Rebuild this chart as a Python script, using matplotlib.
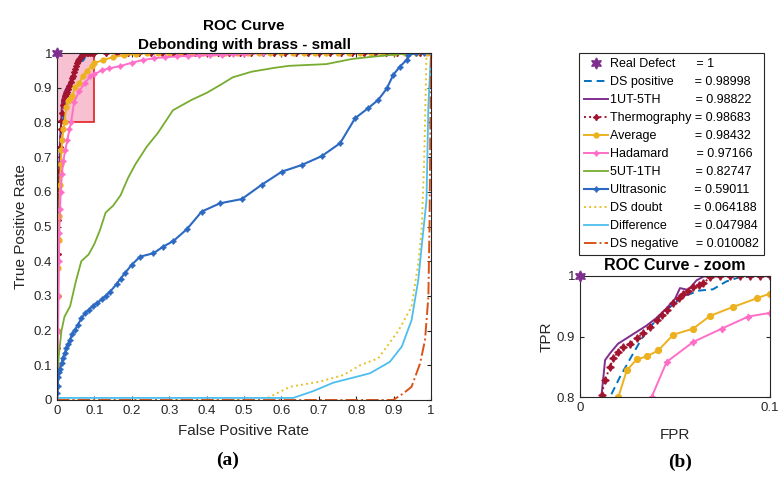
import matplotlib
matplotlib.use("Agg")
import matplotlib.pyplot as plt
from matplotlib.patches import Rectangle

plt.rcParams["font.family"] = ["Liberation Sans", "DejaVu Sans"]

# ---- data (FPR, TPR) ----
real_fpr = [0.0]
real_tpr = [1.0]

dspos_fpr = [0, 0.002, 0.005, 0.010, 0.0158, 0.021, 0.028, 0.035, 0.0456, 0.054, 0.063, 0.070,
             0.077, 0.084, 0.10, 1.0]
dspos_tpr = [0, 0.30, 0.55, 0.72, 0.80, 0.833, 0.872, 0.910, 0.944, 0.966, 0.976, 0.978,
             0.991, 0.998, 1.0, 1.0]

ut5th_fpr = [0, 0.002, 0.005, 0.008, 0.0114, 0.0132, 0.016, 0.020, 0.025, 0.030, 0.035, 0.040,
             0.045, 0.050, 0.0526, 0.057, 0.0614, 0.065, 0.070, 1.0]
ut5th_tpr = [0, 0.35, 0.62, 0.75, 0.805, 0.861, 0.873, 0.888, 0.898, 0.908, 0.918, 0.930,
             0.945, 0.962, 0.980, 0.977, 0.993, 0.999, 1.0, 1.0]

therm_fpr = [0, 0.001, 0.002, 0.003, 0.004, 0.005, 0.006, 0.008, 0.010, 0.0114, 0.0132, 0.0158,
             0.0175, 0.0202, 0.0228, 0.0263, 0.0298, 0.0333, 0.0368, 0.0404, 0.0430, 0.0456,
             0.0491, 0.0520, 0.0544, 0.0570, 0.0596, 0.0625, 0.0649, 0.0684, 0.0737, 0.079,
             0.0842, 0.0895, 0.0947, 0.10, 0.13, 0.16, 0.19, 0.22, 0.25, 0.28, 0.31, 0.34, 0.37,
             0.40, 0.43, 0.46, 0.49, 0.52, 0.55, 0.58, 0.61, 0.64, 0.67, 0.70, 0.73, 0.76, 0.79,
             0.82, 0.85, 0.88, 0.91, 0.94, 0.97, 1.0]
therm_tpr = [0, 0.15, 0.30, 0.42, 0.52, 0.60, 0.66, 0.73, 0.78, 0.804, 0.828, 0.850,
             0.864, 0.875, 0.883, 0.888, 0.897, 0.905, 0.916, 0.927, 0.935, 0.944,
             0.955, 0.963, 0.971, 0.976, 0.982, 0.985, 0.988, 0.998, 1.0, 1.0,
             1.0, 1.0, 1.0, 1.0, 1.0, 1.0, 1.0, 1.0, 1.0, 1.0, 1.0, 1.0, 1.0,
             1.0, 1.0, 1.0, 1.0, 1.0, 1.0, 1.0, 1.0, 1.0, 1.0, 1.0, 1.0, 1.0, 1.0,
             1.0, 1.0, 1.0, 1.0, 1.0, 1.0, 1.0]

avg_fpr = [0, 0.001, 0.002, 0.003, 0.004, 0.005, 0.006, 0.008, 0.010, 0.012, 0.014, 0.017,
           0.0202, 0.0246, 0.0298, 0.0351, 0.0412, 0.0491, 0.0596, 0.0684, 0.0807, 0.093, 0.10,
           0.124, 0.15, 0.18, 0.21, 0.24, 0.27, 0.30, 0.33, 0.36, 0.39, 0.42, 0.45, 0.48, 0.51,
           0.54, 0.57, 0.60, 0.63, 0.66, 0.69, 0.72, 0.75, 0.78, 0.81, 0.84, 0.87, 0.90, 0.93,
           0.96, 0.99, 1.0]
avg_tpr = [0, 0.10, 0.20, 0.30, 0.38, 0.46, 0.53, 0.62, 0.68, 0.72, 0.75, 0.78,
           0.80, 0.844, 0.862, 0.867, 0.877, 0.903, 0.913, 0.934, 0.949, 0.963, 0.971,
           0.980, 0.988, 0.994, 0.997, 1.0, 1.0, 1.0, 1.0, 1.0, 1.0, 1.0, 1.0, 1.0, 1.0,
           1.0, 1.0, 1.0, 1.0, 1.0, 1.0, 1.0, 1.0, 1.0, 1.0, 1.0, 1.0, 1.0, 1.0,
           1.0, 1.0, 1.0]

had_fpr = [0, 0.002, 0.003, 0.004, 0.005, 0.006, 0.008, 0.010, 0.013, 0.017, 0.022, 0.028,
           0.033, 0.0377, 0.0456, 0.0596, 0.0746, 0.0886, 0.10, 0.12, 0.14, 0.168, 0.20, 0.231,
           0.26, 0.29, 0.32, 0.35, 0.38, 0.41, 0.44, 0.47, 0.50, 0.55, 1.0]
had_tpr = [0, 0.10, 0.20, 0.30, 0.40, 0.48, 0.55, 0.60, 0.65, 0.69, 0.72, 0.75,
           0.78, 0.80, 0.858, 0.891, 0.913, 0.933, 0.939, 0.950, 0.956, 0.962, 0.972, 0.980,
           0.985, 0.988, 0.990, 0.992, 0.993, 0.994, 0.995, 0.996, 0.997, 1.0, 1.0]

ut1th_fpr = [0, 0.002, 0.005, 0.012, 0.020, 0.035, 0.050, 0.065, 0.085, 0.10, 0.115, 0.13,
             0.15, 0.17, 0.19, 0.21, 0.24, 0.27, 0.31, 0.36, 0.40, 0.44, 0.47, 0.52, 0.58,
             0.62, 0.72, 0.79, 0.85, 0.92, 1.0]
ut1th_tpr = [0, 0.08, 0.13, 0.20, 0.24, 0.27, 0.34, 0.40, 0.42, 0.45, 0.49, 0.54,
             0.56, 0.59, 0.64, 0.68, 0.73, 0.77, 0.835, 0.865, 0.885, 0.91, 0.93, 0.946, 0.957,
             0.963, 0.968, 0.983, 0.99, 0.997, 1.0]

ultra_fpr = [0, 0.001, 0.002, 0.0035, 0.005, 0.008, 0.0125, 0.015, 0.021, 0.025, 0.030, 0.035,
             0.040, 0.048, 0.055, 0.065, 0.075, 0.085, 0.095, 0.106, 0.12, 0.13, 0.142, 0.16,
             0.17, 0.182, 0.20, 0.222, 0.258, 0.284, 0.311, 0.347, 0.387, 0.436, 0.494, 0.547,
             0.601, 0.654, 0.708, 0.757, 0.797, 0.832, 0.859, 0.882, 0.899, 0.917, 0.935, 0.939,
             0.96, 0.98, 1.0]
ultra_tpr = [0, 0.02, 0.04, 0.067, 0.08, 0.09, 0.106, 0.12, 0.135, 0.15, 0.16, 0.173,
             0.19, 0.202, 0.215, 0.235, 0.25, 0.26, 0.27, 0.279, 0.29, 0.30, 0.312, 0.335,
             0.35, 0.366, 0.39, 0.413, 0.423, 0.442, 0.458, 0.492, 0.543, 0.567, 0.579, 0.62,
             0.658, 0.677, 0.703, 0.74, 0.812, 0.841, 0.865, 0.898, 0.937, 0.961, 0.98, 0.994,
             1.0, 1.0, 1.0]

dsdoubt_fpr = [0, 0.552, 0.623, 0.703, 0.766, 0.81, 0.859, 0.913, 0.948, 0.966, 0.975, 0.982,
               0.988, 1.0]
dsdoubt_tpr = [0, 0, 0.038, 0.053, 0.072, 0.10, 0.12, 0.20, 0.269, 0.394, 0.49, 0.70,
               1.0, 1.0]

diff_fpr = [0, 0.632, 0.686, 0.739, 0.801, 0.837, 0.89, 0.922, 0.948, 0.966, 0.975, 0.988,
            0.993, 1.0]
diff_tpr = [0.006, 0.006, 0.026, 0.05, 0.067, 0.077, 0.11, 0.154, 0.23, 0.346, 0.442, 0.576,
            0.85, 1.0]

dsneg_fpr = [0, 0.899, 0.926, 0.948, 0.971, 0.984, 0.993, 0.996, 1.0]
dsneg_tpr = [0, 0, 0.019, 0.038, 0.106, 0.173, 0.298, 0.50, 1.0]

labels = ["Real Defect      = 1",
          "DS positive      = 0.98998",
          "1UT-5TH          = 0.98822",
          "Thermography = 0.98683",
          "Average           = 0.98432",
          "Hadamard        = 0.97166",
          "5UT-1TH          = 0.82747",
          "Ultrasonic        = 0.59011",
          "DS doubt         = 0.064188",
          "Difference        = 0.047984",
          "DS negative     = 0.010082"]

x_ticks = [0, 0.1, 0.2, 0.3, 0.4, 0.5, 0.6, 0.7, 0.8, 0.9, 1.0]
tick_text = ["0", "0.1", "0.2", "0.3", "0.4", "0.5", "0.6", "0.7", "0.8", "0.9", "1"]

GRAY = "#262626"
STAR4 = (4, 1, 0)
HEXA = (6, 1, 0)


def draw_curves(ax, big):
    s = 1.2 if big else 1.0
    h = []
    h += ax.plot(real_fpr, real_tpr, ls="none", marker=HEXA, ms=8, color="#7E2F8E",
                 clip_on=False, zorder=6)
    h += ax.plot(dspos_fpr, dspos_tpr, ls=(0, (4, 2.5)), lw=1.4, color="#0072BD")
    h += ax.plot(ut5th_fpr, ut5th_tpr, ls="-", lw=1.4, color="#7E2F8E")
    h += ax.plot(therm_fpr, therm_tpr, ls=":", lw=1.4, color="#A2142F",
                 marker=STAR4, ms=4.5 * s, mec="#A2142F")
    h += ax.plot(avg_fpr, avg_tpr, ls="-", lw=1.4, color="#EDB120",
                 marker="o", ms=3.5 * s)
    h += ax.plot(had_fpr, had_tpr, ls="-", lw=1.4, color="#FF6EC7",
                 marker=STAR4, ms=4 * s)
    h += ax.plot(ut1th_fpr, ut1th_tpr, ls="-", lw=1.3, color="#77AC30")
    h += ax.plot(ultra_fpr, ultra_tpr, ls="-", lw=1.5, color="#2C69C2",
                 marker=STAR4, ms=4 * s)
    h += ax.plot(dsdoubt_fpr, dsdoubt_tpr, ls=":", lw=1.4, color="#E6C229")
    h += ax.plot(diff_fpr, diff_tpr, ls="-", lw=1.3, color="#4DBEEE")
    h += ax.plot(dsneg_fpr, dsneg_tpr, ls="-.", lw=1.4, color="#D95319")
    return h


def style_axes(ax):
    for sp in ax.spines.values():
        sp.set_color(GRAY)
        sp.set_linewidth(0.8)
    ax.tick_params(direction="in", top=True, right=True, colors=GRAY,
                   labelsize=9.5, length=3, width=0.8)


fig = plt.figure(figsize=(7.79, 4.8), dpi=100)

# main ROC axes
ax = fig.add_axes([57 / 779, 1 - 400 / 480, 374 / 779, 347 / 480])
ax.add_patch(Rectangle((0, 0.8), 0.1, 0.2, facecolor="#E8336B", alpha=0.3,
                       edgecolor="none", zorder=1))
ax.add_patch(Rectangle((0, 0.8), 0.1, 0.2, facecolor="none",
                       edgecolor="#E02020", lw=1.2, zorder=1.5))
handles = draw_curves(ax, False)
ax.set_xlim(0, 1)
ax.set_ylim(0, 1)
ax.set_xticks(x_ticks)
ax.set_xticklabels(tick_text)
ax.set_yticks(x_ticks)
ax.set_yticklabels(tick_text)
style_axes(ax)
ax.set_xlabel("False Positive Rate", fontsize=11, color=GRAY, labelpad=5)
ax.set_ylabel("True Positive Rate", fontsize=11, color=GRAY, labelpad=4)
ax.set_title("ROC Curve\nDebonding with brass - small", fontsize=11, fontweight="bold",
             pad=3, linespacing=1.45)

# zoom axes
az = fig.add_axes([580 / 779, 1 - 397 / 480, 190 / 779, 121 / 480])
draw_curves(az, True)
az.set_xlim(0, 0.1)
az.set_ylim(0.8, 1)
az.set_xticks([0, 0.1])
az.set_xticklabels(["0", "0.1"])
az.set_yticks([0.8, 0.9, 1.0])
az.set_yticklabels(["0.8", "0.9", "1"])
style_axes(az)
az.set_xlabel("FPR", fontsize=11, color=GRAY, labelpad=10)
az.set_ylabel("TPR", fontsize=11, color=GRAY, labelpad=2)
az.set_title("ROC Curve - zoom", fontsize=11.5, fontweight="bold", pad=4)

leg = fig.legend(handles, labels, loc="upper left",
                 bbox_to_anchor=(579 / 779, 1 - 53 / 480), borderaxespad=0,
                 fontsize=9, labelspacing=0.48, handlelength=1.9, handletextpad=0.15,
                 borderpad=0.4, fancybox=False, framealpha=1, edgecolor=GRAY)
leg.get_frame().set_linewidth(0.8)

fig.text(228 / 779, 1 - 460 / 480, "(a)", ha="center", va="center", fontsize=14,
         family="Liberation Serif", fontweight="bold")
fig.text(680 / 779, 1 - 462 / 480, "(b)", ha="center", va="center", fontsize=14,
         family="Liberation Serif", fontweight="bold")

fig.savefig("out.png", dpi=100)
